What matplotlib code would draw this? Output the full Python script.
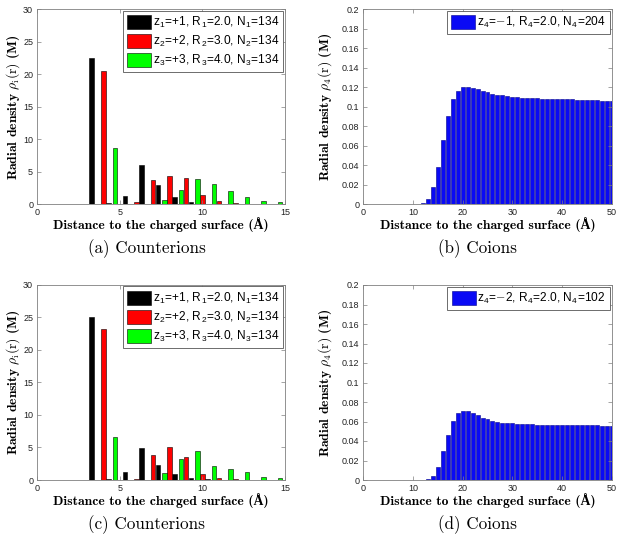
import numpy as np
import matplotlib
matplotlib.use("Agg")
import matplotlib.pyplot as plt
from matplotlib.ticker import FormatStrFormatter, MultipleLocator

plt.rcParams['mathtext.fontset'] = 'cm'

# ---------------- data ----------------
# counterions, panel (a)
dist_z1 = [3.3, 4.3, 5.3, 6.3, 7.3, 8.3, 9.3, 10.3, 11.3, 12.3, 13.3, 14.3]
dist_z2 = [4.0, 5.0, 6.0, 7.0, 8.0, 9.0, 10.0, 11.0, 12.0, 13.0, 14.0, 15.0]
dist_z3 = [4.7, 5.7, 6.7, 7.7, 8.7, 9.7, 10.7, 11.7, 12.7, 13.7, 14.7]

a_z1 = [22.5, 0.25, 1.25, 6.0, 2.9, 1.1, 0.36, 0.1, 0.04, 0.02, 0.01, 0.0]
a_z2 = [20.5, 0.02, 0.38, 3.7, 4.3, 4.1, 1.47, 0.52, 0.25, 0.1, 0.04, 0.02]
a_z3 = [8.7, 0.0, 0.0, 0.68, 2.24, 3.95, 3.2, 2.1, 1.15, 0.52, 0.28]

# counterions, panel (c)
c_z1 = [25.1, 0.1, 1.2, 4.9, 2.35, 0.97, 0.3, 0.08, 0.03, 0.01, 0.0, 0.0]
c_z2 = [23.15, 0.0, 0.1, 3.9, 5.05, 3.47, 0.92, 0.38, 0.18, 0.07, 0.03, 0.01]
c_z3 = [6.55, 0.0, 0.0, 1.1, 3.16, 4.39, 2.2, 1.7, 1.17, 0.5, 0.3]

labels_counter = [r'z$_\mathregular{1}$=+1, R$_\mathregular{1}$=2.0, N$_\mathregular{1}$=134',
                  r'z$_\mathregular{2}$=+2, R$_\mathregular{2}$=3.0, N$_\mathregular{2}$=134',
                  r'z$_\mathregular{3}$=+3, R$_\mathregular{3}$=4.0, N$_\mathregular{3}$=134']

# coions
dist_co = list(range(1, 51))
b_co = [0, 0, 0, 0, 0, 0, 0, 0, 0, 0,
        0.0003, 0.001, 0.0055, 0.0175, 0.038, 0.0656, 0.091, 0.1077, 0.1165, 0.1200,
        0.1203, 0.1196, 0.118, 0.1162, 0.1149, 0.1134, 0.1124, 0.1118, 0.111, 0.1104,
        0.1098, 0.1094, 0.109, 0.1088, 0.1086, 0.1084, 0.1082, 0.108, 0.1078, 0.1077,
        0.1076, 0.1075, 0.1074, 0.1072, 0.107, 0.1068, 0.1066, 0.1064, 0.1062, 0.106]
d_co = [0, 0, 0, 0, 0, 0, 0, 0, 0, 0,
        0, 0, 0.001, 0.004, 0.0137, 0.0297, 0.0462, 0.0605, 0.0687, 0.0708,
        0.0708, 0.069, 0.0663, 0.0639, 0.0622, 0.0608, 0.0598, 0.0588, 0.0585, 0.058,
        0.0577, 0.0574, 0.0572, 0.057, 0.0569, 0.0568, 0.0567, 0.0566, 0.0565, 0.0564,
        0.0563, 0.0562, 0.0561, 0.0561, 0.056, 0.056, 0.0559, 0.0558, 0.0558, 0.0557]
label_b = r'z$_\mathregular{4}$=$-$1, R$_\mathregular{4}$=2.0, N$_\mathregular{4}$=204'
label_d = r'z$_\mathregular{4}$=$-$2, R$_\mathregular{4}$=2.0, N$_\mathregular{4}$=102'

captions = ['(a) Counterions', '(b) Coions', '(c) Counterions', '(d) Coions']
ylabel_counter = r'Radial density $\rho_\mathrm{i}(\mathrm{r})$ (M)'
ylabel_co = r'Radial density $\rho_4(\mathrm{r})$ (M)'
xlabel_all = 'Distance to the charged surface (Å)'

# ---------------- figure ----------------
W, H = 622, 540
fig = plt.figure(figsize=(W / 100, H / 100), dpi=100)

def ax_at(l, r, t, b):
    return fig.add_axes([l / W, 1 - b / H, (r - l) / W, (b - t) / H])

axA = ax_at(37.3, 285, 9.3, 204.3)
axB = ax_at(363.3, 611.7, 9.3, 204.3)
axC = ax_at(37.3, 285, 284.7, 480)
axD = ax_at(363.3, 611.7, 285, 480)

tick_font = ['Liberation Sans', 'DejaVu Sans']
label_font = ['cmb10', 'Liberation Serif', 'DejaVu Serif']
spine_col = '#808080'

def style(ax):
    for s in ax.spines.values():
        s.set_color(spine_col)
        s.set_linewidth(0.6)
    ax.tick_params(direction='in', length=3, width=0.5, color=spine_col,
                   top=True, right=True, labelsize=6.5, pad=3, labelcolor='#222222')
    for lab in ax.get_xticklabels() + ax.get_yticklabels():
        lab.set_family(tick_font)
    ax.set_xlabel(xlabel_all, family=label_font,
                  fontweight='bold', fontsize=9.8, labelpad=0)

leg_kw = dict(loc='upper right', bbox_to_anchor=(1.0, 1.0), borderaxespad=0.15,
              fancybox=False, framealpha=1, edgecolor='#555555',
              handlelength=2.0, handleheight=1.4, handletextpad=0.15,
              labelspacing=0.33, borderpad=0.35,
              prop={'family': tick_font, 'size': 8.6})

cols = ['#000000', '#ff0000', '#00ff00']
for ax, vals in ((axA, (a_z1, a_z2, a_z3)), (axC, (c_z1, c_z2, c_z3))):
    for dist, v, c, lab in zip((dist_z1, dist_z2, dist_z3), vals, cols, labels_counter):
        ax.bar(dist, v, width=0.28, color=c, edgecolor='#000000', linewidth=0.4, label=lab)
    ax.set_xlim(0, 15)
    ax.set_ylim(0, 30)
    ax.xaxis.set_major_locator(MultipleLocator(5))
    ax.yaxis.set_major_locator(MultipleLocator(5))
    style(ax)
    leg = ax.legend(**leg_kw)
    leg.get_frame().set_linewidth(0.6)

for ax, vals, lab in ((axB, b_co, label_b), (axD, d_co, label_d)):
    ax.bar(dist_co, vals, width=0.8, color='#0a0af5', edgecolor='#00008b', linewidth=0.4, label=lab)
    ax.set_xlim(0, 50)
    ax.set_ylim(0, 0.2)
    ax.xaxis.set_major_locator(MultipleLocator(10))
    ax.yaxis.set_major_locator(MultipleLocator(0.02))
    ax.yaxis.set_major_formatter(FormatStrFormatter('%g'))
    style(ax)
    leg = ax.legend(**leg_kw)
    leg.get_frame().set_linewidth(0.6)

ylab_pos = [(12.7, 106.8, ylabel_counter), (325, 106.8, ylabel_co),
            (12.7, 382.4, ylabel_counter), (325, 382.5, ylabel_co)]
for x, y, txt in ylab_pos:
    fig.text(x / W, 1 - y / H, txt, family=label_font, fontweight='bold', fontsize=9.8,
             rotation=90, ha='center', va='center')

cap_pos = [(147, 249), (477, 249), (147, 525), (477, 525)]
for (x, y), txt in zip(cap_pos, captions):
    fig.text(x / W, 1 - y / H, txt, family=['cmr10', 'DejaVu Serif'], fontsize=12.3,
             ha='center', va='center')

fig.savefig('out.png', dpi=100)
